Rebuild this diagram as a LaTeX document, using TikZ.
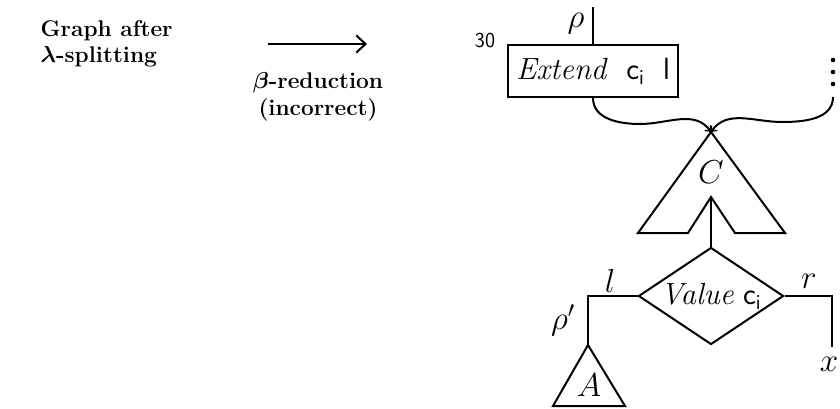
\documentclass[tikz,border=0pt]{standalone}
\usepackage{amsmath}
\usetikzlibrary{shapes.geometric, arrows, arrows.meta, positioning}

\newcommand{\bigfont}{\fontsize{23}{27}\selectfont}
\newcommand{\cident}{\textsf{c}$_{\textsf{i}}$}

\begin{document}
\begin{tikzpicture}[x=0.75pt, y=-0.75pt, >=to,
    wire/.style={line width=1.5pt},
    framebox/.style={rectangle, draw, line width=1.5pt, minimum width=127.5pt, minimum height=39pt, inner sep=0pt, font=\bigfont},
    testbox/.style={diamond, aspect=1.5, draw, line width=1.5pt, minimum width=108.75pt, minimum height=72.75pt, inner sep=0pt, font=\bigfont},
    caption/.style={align=center, font=\fontsize{17}{20}\selectfont\bfseries},
    lab/.style={inner sep=0pt, font=\bigfont}]

    \useasboundingbox (0,0) rectangle (840,408);

    % Text on the left
    \node[caption, align=left, anchor=west] (title) at (36,44) {Graph after\\ $\boldsymbol{\lambda}$-splitting};
    \coordinate (arrS) at (268,44);
    \coordinate (arrE) at (367,44);
    \draw[line width=1.5pt, -{Straight Barb[length=7pt, width=13pt]}] (arrS) -- (arrE);
    \node[caption] (step) at (318,97) {$\boldsymbol{\beta}$-reduction\\ (incorrect)};

    % Graph
    \node[font=\fontsize{16}{18}\selectfont\sffamily] (num) at (485,40) {30};
    \node[framebox] (ext) at (593,71) {\textit{Extend}\ \ \cident\ \ \textsf{l}};
    \coordinate (rtop) at (593,7);
    \node[lab] (rho) at (576,24) {$\rho$};
    \coordinate (more) at (833,97);
    \foreach \y in {60,72,84} \fill (833,\y) circle (2.3);

    \coordinate (meet) at (711,132);
    \coordinate (notch) at (711,197);
    \node[testbox] (val) at (711,296) {\textit{Value} \cident};
    \coordinate (apexA) at (588,345);
    \coordinate (xend) at (832,347);

    % Wires
    \draw[wire] (rtop) -- (ext.north);
    \draw[wire, ->] (ext.south) to[out=-90, in=180] (640,124) to[out=0, in=125] (meet);
    \draw[wire, ->] (more) to[out=-90, in=0] (782,122) to[out=180, in=55] (meet);

    \draw[wire] (meet) -- (785,233) -- (735,233) -- (notch) -- (688,233) -- (638,233) -- cycle;
    \node[lab] (cl) at (711,172) {$C$};

    \draw[wire] (notch) -- (val.north);
    \draw[wire] (val.west) -| (apexA);
    \draw[wire] (val.east) -| (xend);
    \node[lab] (ll) at (610,281) {$l$};
    \node[lab] (rl) at (809,281) {$r$};
    \node[lab] (rhop) at (563,320) {$\rho'$};
    \node[lab] (xl) at (829,364) {$x$};

    \draw[wire] (apexA) -- (625,406) -- (553,406) -- cycle;
    \node[lab] (al) at (589,385) {$A$};
\end{tikzpicture}
\end{document}
